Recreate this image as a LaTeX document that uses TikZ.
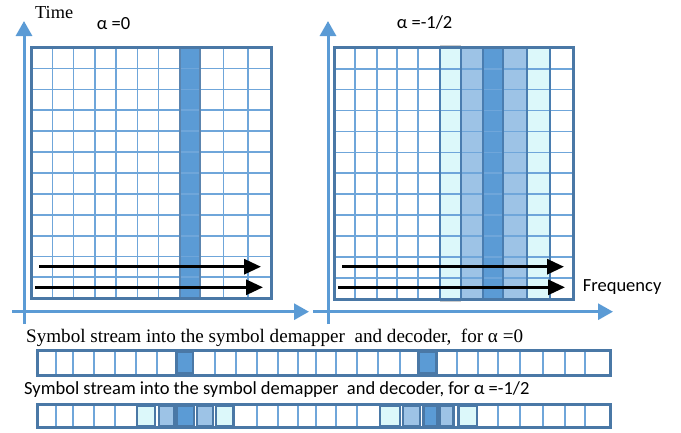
\documentclass[tikz,border=0pt]{standalone}
\usepackage{fontspec}
\setmainfont{Liberation Serif}
\newfontfamily\calfont{Carlito}
\usetikzlibrary{arrows.meta}
\definecolor{gridblue}{HTML}{6FA6DA}
\definecolor{frameblue}{HTML}{4A78A6}
\definecolor{axisblue}{HTML}{5B9BD5}
\definecolor{darkfill}{HTML}{5B9BD5}
\definecolor{midfill}{HTML}{9DC3E6}
\definecolor{lightfill}{HTML}{DCF8FA}
\definecolor{cellborder}{HTML}{4A7DB0}
\tikzset{
  gridline/.style={draw=gridblue, line width=1.8pt},
  outerframe/.style={draw=frameblue, line width=3pt},
  colbox/.style={draw=cellborder, line width=2.2pt},
  axisline/.style={draw=axisblue, line width=3pt, -{Triangle[length=15pt,width=16pt]}},
  flowarrow/.style={draw=black, line width=3pt, -{Triangle[length=17pt,width=15pt]}},
  serlabel/.style={inner sep=0pt, anchor=base west, font=\fontsize{18.3}{20}\selectfont},
  serstream/.style={inner sep=0pt, anchor=base west, font=\fontsize{19.1}{20}\selectfont},
  sanslabel/.style={inner sep=0pt, anchor=base west, font=\calfont\fontsize{18.5}{20}\selectfont},
}
\begin{document}
\begin{tikzpicture}[x=1pt,y=-1pt]
\useasboundingbox (0,0) rectangle (681,432);

% ---------- axes ----------
\coordinate (lvb) at (24,324); \coordinate (lvt) at (24,21);
\coordinate (lhl) at (12,311.7); \coordinate (lhr) at (309,311.7);
\coordinate (rvb) at (328,324); \coordinate (rvt) at (328,21);
\coordinate (rhl) at (313,311.7); \coordinate (rhr) at (613,311.7);
\draw[axisline] (lvb) -- (lvt);
\draw[axisline] (lhl) -- (lhr);
\draw[axisline] (rvb) -- (rvt);
\draw[axisline] (rhl) -- (rhr);

% ---------- left grid ----------
\fill[white] (31,47.7) rectangle (271,298.3);
\fill[darkfill] (180,47.7) rectangle (200,298.3);
\foreach \x in {52.5,73.5,95,116,137.5,158.5,223.5,248}
  \draw[gridline] (\x,47.7) -- (\x,298.3);
\foreach \k in {1,...,11}
  \draw[gridline] (31,{47.7+\k*20.88}) -- (271,{47.7+\k*20.88});
\draw[colbox, draw=frameblue!90] (180,47.7) rectangle (200,298.3);
\draw[outerframe] (31,47.7) rectangle (271,298.3);

% ---------- right grid ----------
\fill[white] (334.3,47.7) rectangle (573.3,299);
\fill[lightfill] (440,47.7) rectangle (461,299);
\fill[midfill] (461,47.7) rectangle (482.7,299);
\fill[darkfill] (482.7,47.7) rectangle (503.3,299);
\fill[midfill] (503.3,47.7) rectangle (526.7,299);
\fill[lightfill] (526.7,47.7) rectangle (550,299);
\foreach \x in {355,376.7,397.3,418.3}
  \draw[gridline] (\x,47.7) -- (\x,299);
\foreach \k in {1,...,11}
  \draw[gridline] (334.3,{47.7+\k*20.94}) -- (573.3,{47.7+\k*20.94});
\draw[line width=1.5pt, draw=gray!40] (440,45.3) -- (461,45.3);
\draw[line width=1.5pt, draw=gray!40] (440,301.4) -- (461,301.4);
\draw[colbox] (440,47.7) rectangle (461,299);
\draw[colbox] (461,47.7) rectangle (482.7,299);
\draw[colbox] (482.7,47.7) rectangle (503.3,299);
\draw[colbox] (503.3,47.7) rectangle (526.7,299);
\draw[colbox] (526.7,47.7) rectangle (550,299);
\draw[outerframe] (334.3,47.7) rectangle (573.3,299);

% ---------- flow arrows ----------
\coordinate (la1s) at (39,266.7);  \coordinate (la1e) at (261,266.7);
\coordinate (la2s) at (35,287.3);  \coordinate (la2e) at (263,287.3);
\coordinate (ra1s) at (342,266.7); \coordinate (ra1e) at (564,266.7);
\coordinate (ra2s) at (338,287.3); \coordinate (ra2e) at (565,287.3);
\draw[flowarrow] (la1s) -- (la1e);
\draw[flowarrow] (la2s) -- (la2e);
\draw[flowarrow] (ra1s) -- (ra1e);
\draw[flowarrow] (ra2s) -- (ra2e);

% ---------- labels ----------
\node[serlabel] (time) at (35,18.3) {Time};
\node[sanslabel] (a0) at (96.7,29.3) {α =0};
\node[sanslabel] (a12) at (396.7,28.5) {α =-1/2};
\node[sanslabel] (freq) at (582.7,291.7) {Frequency};
\node[serstream] (s1) at (26,342.7) {Symbol stream into the symbol demapper\ \ and decoder,\ \ for α =0};
\node[sanslabel] (s2) at (24,394) {Symbol stream into the symbol demapper\ \ and decoder, for α =-1/2};

% ---------- strip 1 ----------
\fill[white] (37,350) rectangle (610,375);
\foreach \x in {56,73,94,115,136,157,193,215,236,257,278,298,316,336,357,378,400,437,457,478,498,520,543,565,585}
  \draw[gridline, line width=1.3pt] (\x,350) -- (\x,375);
\filldraw[fill=darkfill, draw=frameblue, line width=2.4pt] (176.5,351.5) rectangle (193,373.5);
\filldraw[fill=darkfill, draw=frameblue, line width=2.4pt] (418.5,351.5) rectangle (436.5,373.5);
\draw[outerframe] (37,350) rectangle (610,375);

% ---------- strip 2 ----------
\fill[white] (37,404.3) rectangle (610,427.7);
\foreach \x in {56,73,94,115,257,278,298,316,336,357,498,520,543,565,585}
  \draw[gridline, line width=1.3pt] (\x,404.3) -- (\x,427.7);
\foreach \a/\b/\c in {136.7/155/lightfill,159/174.3/midfill,176.7/194/darkfill,196.7/212.7/midfill,216/233.3/lightfill,
                      380/400/lightfill,402.7/420/midfill,423.3/436.7/darkfill,439.3/453.3/midfill,458.3/476.7/lightfill}
  \filldraw[fill=\c, draw=frameblue, line width=2.4pt] (\a,406) rectangle (\b,426);
\draw[outerframe] (37,404.3) rectangle (610,427.7);
\end{tikzpicture}
\end{document}
